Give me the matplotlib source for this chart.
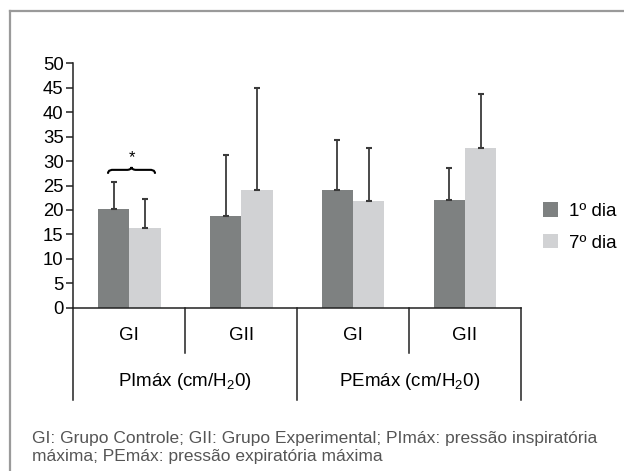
import matplotlib
matplotlib.use("Agg")
import matplotlib.pyplot as plt
from matplotlib.path import Path
from matplotlib.patches import PathPatch
from matplotlib.lines import Line2D
import numpy as np

plt.rcParams['font.family'] = ['Liberation Sans', 'DejaVu Sans']
plt.rcParams['mathtext.fontset'] = 'custom'
plt.rcParams['mathtext.rm'] = 'Liberation Sans'
plt.rcParams['mathtext.it'] = 'Liberation Sans'

# ---- data ----
subgroups = ['GI', 'GII', 'GI', 'GII']
groups = ['PImáx (cm/H$_2$0)', 'PEmáx (cm/H$_2$0)']
series_labels = ['1º dia', '7º dia']
dia1 = [20.2, 18.8, 24.1, 22.0]
dia1_err = [5.5, 12.5, 10.2, 6.5]
dia7 = [16.3, 24.0, 21.9, 32.7]
dia7_err = [5.9, 21.0, 10.8, 11.1]
yticks = [0, 5, 10, 15, 20, 25, 30, 35, 40, 45, 50]
footnote = ("GI: Grupo Controle; GII: Grupo Experimental; PImáx: pressão inspiratória\n"
            "máxima; PEmáx: pressão expiratória máxima")

W, H = 624, 471
fig = plt.figure(figsize=(W / 100, H / 100), dpi=100)
fig.patch.set_facecolor('white')

# frame lines
fx = lambda px: px / W
fy = lambda py: 1 - py / H
fig.add_artist(Line2D([fx(9.5), 1.0], [fy(11), fy(11)], color='#9a9a9a', lw=1.6, transform=fig.transFigure))
fig.add_artist(Line2D([fx(9.5), fx(9.5)], [fy(11), 0], color='#9a9a9a', lw=1.6, transform=fig.transFigure))

ax_l, ax_r, ax_t, ax_b = 73.3, 521.0, 63.3, 307.7
ax = fig.add_axes([fx(ax_l), fy(ax_b), (ax_r - ax_l) / W, (ax_b - ax_t) / H])

x = np.arange(len(subgroups))
bw = 0.28
dark = '#7e8181'
light = '#d1d2d4'
errc = '#3a3a3a'

ax.bar(x - bw / 2, dia1, width=bw, color=dark, label=series_labels[0], zorder=2)
ax.bar(x + bw / 2, dia7, width=bw, color=light, label=series_labels[1], zorder=2)
ax.errorbar(x - bw / 2, dia1, yerr=[np.zeros(len(dia1)), dia1_err], fmt='none',
            ecolor=errc, elinewidth=1.3, capsize=2.0, capthick=1.5, zorder=3)
ax.errorbar(x + bw / 2, dia7, yerr=[np.zeros(len(dia7)), dia7_err], fmt='none',
            ecolor=errc, elinewidth=1.3, capsize=2.0, capthick=1.5, zorder=3)

ax.set_xlim(-0.5, len(subgroups) - 0.5)
ax.set_ylim(0, 50)
ax.set_yticks(yticks)
ax.tick_params(axis='y', labelsize=13.3, length=5, width=1.1, pad=2, direction='out', colors='#222222',
               labelcolor='black')
ax.set_xticks([])
for s in ['top', 'right']:
    ax.spines[s].set_visible(False)
for s in ['left', 'bottom']:
    ax.spines[s].set_color('#222222')
    ax.spines[s].set_linewidth(1.1)

# category table below axis
tr = ax.get_xaxis_transform()
inner_end = -(353 - ax_b) / (ax_b - ax_t)
outer_end = -(400 - ax_b) / (ax_b - ax_t)
sub_y = -(335 - ax_b) / (ax_b - ax_t)
grp_y = -(382 - ax_b) / (ax_b - ax_t)
n = len(subgroups)
for b in np.arange(-0.5, n, 1.0):
    k = int(b + 0.5)
    end = outer_end if k % 2 == 0 else inner_end
    ax.add_line(Line2D([b, b], [0, end], transform=tr, color='#222222', lw=1.1, clip_on=False))
for i, lab in enumerate(subgroups):
    ax.text(x[i], sub_y, lab, transform=tr, ha='center', va='center', fontsize=13.5)
for g, lab in enumerate(groups):
    ax.text(2 * g + 0.5, grp_y, lab, transform=tr, ha='center', va='center', fontsize=13.5)

# significance brace over first group
i = 0
top = max(dia1[i] + dia1_err[i], dia7[i] + dia7_err[i])
yb = top + 2.5
x0, x1 = x[i] - 0.19, x[i] + 0.23
xc = (x0 + x1) / 2
verts = [(x0, yb - 0.8), (x0, yb), (x0 + 0.03, yb), (x0 + 0.05, yb),
         (xc - 0.04, yb), (xc - 0.02, yb), (xc, yb + 0.2), (xc, yb + 0.6),
         (xc, yb + 0.2), (xc + 0.02, yb), (xc + 0.04, yb),
         (x1 - 0.05, yb), (x1 - 0.03, yb), (x1, yb), (x1, yb - 0.8)]
codes = [Path.MOVETO, Path.CURVE4, Path.CURVE4, Path.CURVE4,
         Path.LINETO, Path.CURVE4, Path.CURVE4, Path.CURVE4,
         Path.CURVE4, Path.CURVE4, Path.CURVE4,
         Path.LINETO, Path.CURVE4, Path.CURVE4, Path.CURVE4]
ax.add_patch(PathPatch(Path(verts, codes), fill=False, lw=1.5, color='black', clip_on=False))
ax.text(xc, yb + 2.6, '*', ha='center', va='center', fontsize=12)

# legend
ax.legend(loc='center left', bbox_to_anchor=(fx(543), fy(227)), bbox_transform=fig.transFigure,
          frameon=False, fontsize=13.5, handlelength=0.8, handleheight=0.8,
          handletextpad=0.6, labelspacing=0.75, borderaxespad=0, borderpad=0)

fig.text(fx(32), fy(447), footnote, ha='left', va='center', fontsize=12.5, color='#555555',
         linespacing=1.25)

fig.savefig('out.png', dpi=100)
